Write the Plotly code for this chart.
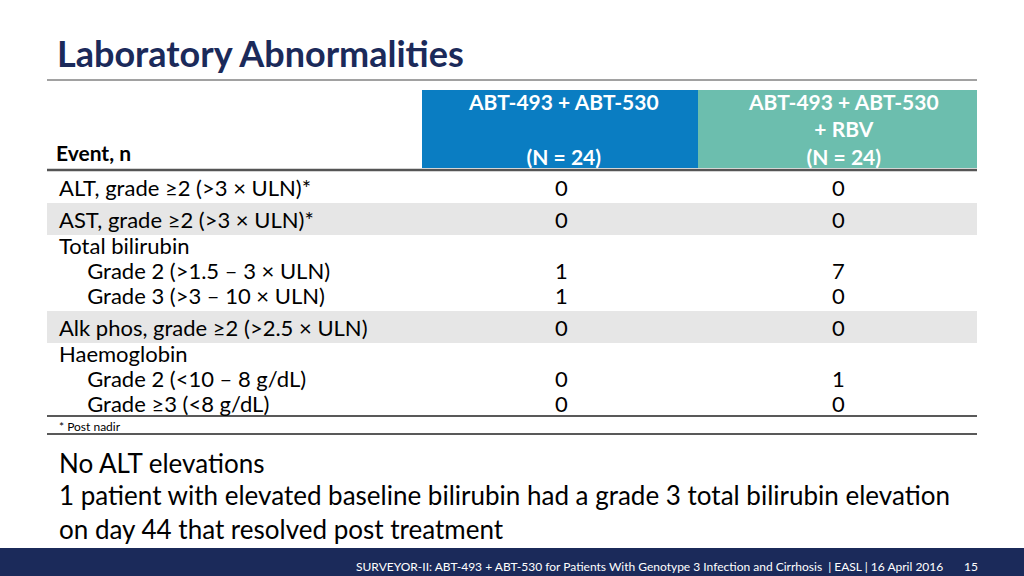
import plotly.graph_objects as go

title = "Laboratory Abnormalities"
col_headers = ["ABT-493 + ABT-530<br><br>(N = 24)", "ABT-493 + ABT-530<br>+ RBV<br>(N = 24)"]
row_labels = ["ALT, grade ≥2 (>3 × ULN)*", "AST, grade ≥2 (>3 × ULN)*", "Total bilirubin",
              "   Grade 2 (>1.5 – 3 × ULN)", "   Grade 3 (>3 – 10 × ULN)",
              "Alk phos, grade ≥2 (>2.5 × ULN)", "Haemoglobin",
              "   Grade 2 (<10 – 8 g/dL)", "   Grade ≥3 (<8 g/dL)"]
col1 = ["0", "0", "", "1", "1", "0", "", "0", "0"]
col2 = ["0", "0", "", "7", "0", "0", "", "1", "0"]
row_y = [187, 219, 245, 270, 295, 327, 353, 378, 403]
bullets = ["No ALT elevations",
           "1 patient with elevated baseline bilirubin had a grade 3 total bilirubin elevation<br>on day 44 that resolved post treatment"]
footer = "SURVEYOR-II: ABT-493 + ABT-530 for Patients With Genotype 3 Infection and Cirrhosis  | EASL | 16 April 2016"
page = "15"

NAVY = "#1B2A5A"
F = "Lato"
fig = go.Figure()
shapes = []
ann = []
def rect(x0, y0, x1, y1, c):
    shapes.append(dict(type="rect", xref="x", yref="y", x0=x0, y0=y0, x1=x1, y1=y1, fillcolor=c, line_width=0, layer="below"))
def line(x0, y0, x1, y1, c="#333", w=1.5):
    shapes.append(dict(type="line", xref="x", yref="y", x0=x0, y0=y0, x1=x1, y1=y1, line=dict(color=c, width=w)))
def txt(x, y, s, size, color="#000", bold=False, xa="left", ya="middle"):
    if bold: s = "<b>" + s + "</b>"
    ann.append(dict(x=x, y=y, xref="x", yref="y", text=s, showarrow=False, xanchor=xa, yanchor=ya,
                    font=dict(family=F, size=size, color=color), align="left" if xa == "left" else "center"))

txt(55, 53, title, 36, NAVY, True)
line(47, 80, 977, 80, "#444", 1)
rect(422, 90, 698, 168, "#0A7DC2")
rect(698, 90, 977, 168, "#6CBEAE")
txt(563, 129, col_headers[0], 21, "white", True, "center")
txt(843, 129, col_headers[1], 21, "white", True, "center")
txt(54, 152, "Event, n", 21, "#000", True)
line(47, 170, 977, 170, "#555", 2.5)
rect(47, 203, 977, 235, "#E6E6E6")
rect(47, 311, 977, 343, "#E6E6E6")
for lbl, y, a, b in zip(row_labels, row_y, col1, col2):
    txt(57, y, lbl.replace("   ", "&nbsp;&nbsp;&nbsp;&nbsp;&nbsp;"), 22)
    if a: txt(561, y, a, 22, xa="center")
    if b: txt(838, y, b, 22, xa="center")
line(47, 416, 977, 416, "#222", 1.5)
txt(57, 426, "* Post nadir", 12)
line(47, 434, 977, 434, "#222", 1.5)
txt(57, 463, bullets[0], 26)
txt(57, 512, bullets[1], 26)
rect(0, 548, 1024, 576, NAVY)
txt(945, 566, footer, 12, "white", xa="right")
txt(962, 566, page, 12, "white")

fig.update_layout(width=1024, height=576, margin=dict(l=0, r=0, t=0, b=0),
                  plot_bgcolor="white", paper_bgcolor="white", shapes=shapes, annotations=ann,
                  xaxis=dict(range=[0, 1024], visible=False, fixedrange=True),
                  yaxis=dict(range=[576, 0], visible=False, fixedrange=True), showlegend=False)
fig.write_html("out.html", config={"displayModeBar": False},
               post_script="document.body.style.margin='0';document.body.style.overflow='hidden';")
